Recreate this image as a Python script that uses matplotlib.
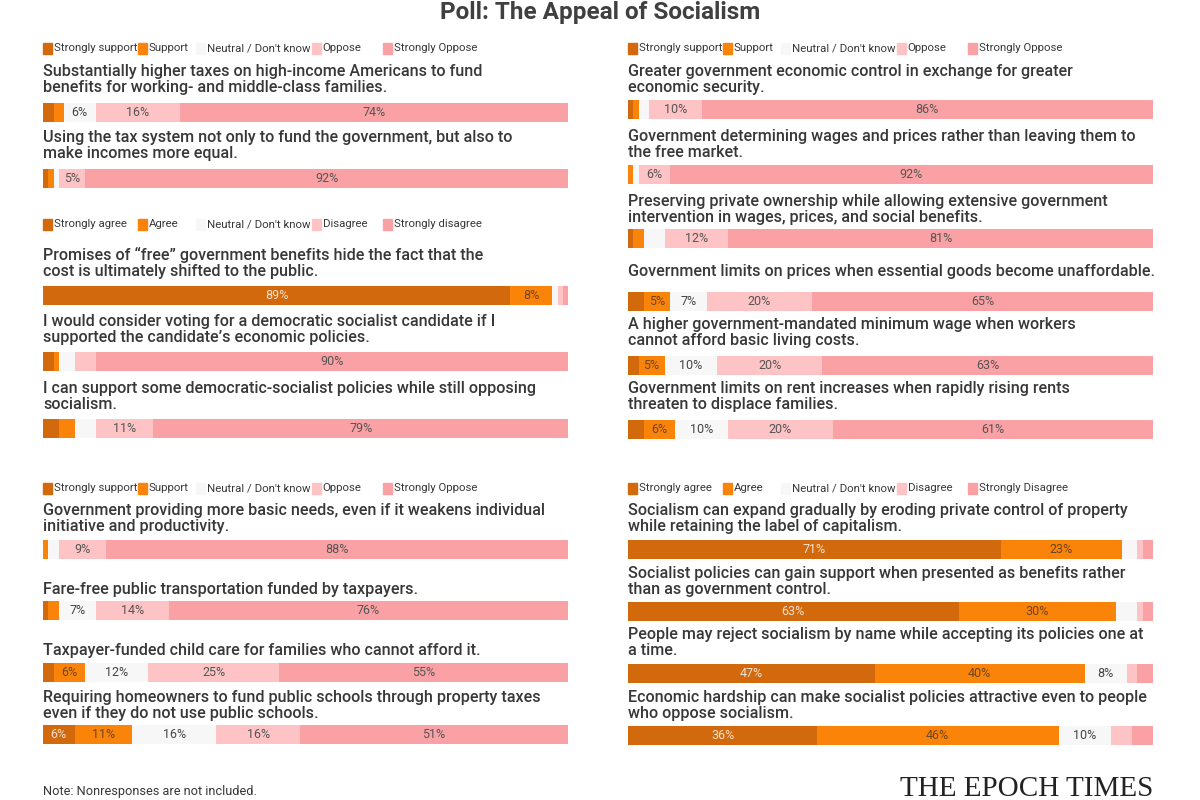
import matplotlib
matplotlib.use("Agg")
import matplotlib.pyplot as plt
from matplotlib.patches import Rectangle

plt.rcParams["font.family"] = ["Roboto", "DejaVu Sans"]

# segment colours: strongly +, +, neutral, -, strongly -
COLORS = ["#d2690c", "#fa8309", "#f7f7f7", "#fdc3c5", "#f9a1a4"]
LABEL_COLORS = ["#f6e3d2", "#6e4520", "#444444", "#555555", "#555555"]
TEXT = "#383838"

support_legend = ["Strongly support", "Support", "Neutral / Don't know", "Oppose", "Strongly Oppose"]
agree_legend = ["Strongly agree", "Agree", "Neutral / Don't know", "Disagree", "Strongly disagree"]
agree_legend_b = ["Strongly agree", "Agree", "Neutral / Don't know", "Disagree", "Strongly Disagree"]

p1_questions = [
    "Substantially higher taxes on high-income Americans to fund\nbenefits for working- and middle-class families.",
    "Using the tax system not only to fund the government, but also to\nmake incomes more equal.",
]
p1_values = [[2, 2, 6, 16, 74], [1, 1, 1, 5, 92]]

p2_questions = [
    "Promises of \u201cfree\u201d government benefits hide the fact that the\ncost is ultimately shifted to the public.",
    "I would consider voting for a democratic socialist candidate if I\nsupported the candidate\u2019s economic policies.",
    "I can support some democratic-socialist policies while still opposing\nsocialism.",
]
p2_values = [[89, 8, 1, 1, 1], [2, 1, 3, 4, 90], [3, 3, 4, 11, 79]]

p3_questions = [
    "Government providing more basic needs, even if it weakens individual\ninitiative and productivity.",
    "Fare-free public transportation funded by taxpayers.",
    "Taxpayer-funded child care for families who cannot afford it.",
    "Requiring homeowners to fund public schools through property taxes\neven if they do not use public schools.",
]
p3_values = [[0, 1, 2, 9, 88], [1, 2, 7, 14, 76], [2, 6, 12, 25, 55], [6, 11, 16, 16, 51]]

p4_questions = [
    "Greater government economic control in exchange for greater\neconomic security.",
    "Government determining wages and prices rather than leaving them to\nthe free market.",
    "Preserving private ownership while allowing extensive government\nintervention in wages, prices, and social benefits.",
]
p4_values = [[1, 1, 2, 10, 86], [0, 1, 1, 6, 92], [1, 2, 4, 12, 81]]

p5_questions = [
    "Government limits on prices when essential goods become unaffordable.",
    "A higher government-mandated minimum wage when workers\ncannot afford basic living costs.",
    "Government limits on rent increases when rapidly rising rents\nthreaten to displace families.",
]
p5_values = [[3, 5, 7, 20, 65], [2, 5, 10, 20, 63], [3, 6, 10, 20, 61]]

p6_questions = [
    "Socialism can expand gradually by eroding private control of property\nwhile retaining the label of capitalism.",
    "Socialist policies can gain support when presented as benefits rather\nthan as government control.",
    "People may reject socialism by name while accepting its policies one at\na time.",
    "Economic hardship can make socialist policies attractive even to people\nwho oppose socialism.",
]
p6_values = [[71, 23, 3, 1, 2], [63, 30, 4, 1, 2], [47, 40, 8, 2, 3], [36, 46, 10, 4, 4]]

# layout (pixels from top; legend x in percent of bar width)
LEGEND_X = [0, 18.0, 29.2, 51.2, 64.8]
BAR_H = 19


def draw_panel(ax, legend, questions, values, legend_y, bar_y, gaps):
    if legend is not None:
        for lab, col, lx in zip(legend, COLORS, LEGEND_X):
            ax.add_patch(Rectangle((lx, legend_y - 5.5), 1.75, 11, color=col, clip_on=False))
            ax.text(lx + 2.1, legend_y, lab, fontsize=8.2, va="center", color=TEXT)
    for q, vals, y, g in zip(questions, values, bar_y, gaps):
        left = 0
        for v, col, tc in zip(vals, COLORS, LABEL_COLORS):
            ax.barh(y, v, left=left, height=BAR_H, color=col, linewidth=0)
            if v >= 5:
                ax.text(left + v / 2, y + 0.5, f"{v}%", ha="center", va="center",
                        fontsize=9, color=tc)
            left += v
        ax.text(0, y - g, q, va="bottom", ha="left", fontsize=11.6, color=TEXT,
                linespacing=1.05, fontweight="medium")


fig = plt.figure(figsize=(12, 8), dpi=100)
ax_l = fig.add_axes([43 / 1200, 0, 525 / 1200, 1])
ax_r = fig.add_axes([628 / 1200, 0, 525 / 1200, 1])
for ax in (ax_l, ax_r):
    ax.set_xlim(0, 100)
    ax.set_ylim(800, 0)
    ax.axis("off")

draw_panel(ax_l, support_legend, p1_questions, p1_values, 48, [112, 178], [17, 17])
draw_panel(ax_l, agree_legend, p2_questions, p2_values, 224, [295, 361, 428], [16, 16, 16])
draw_panel(ax_l, support_legend, p3_questions, p3_values, 488, [549, 610, 672, 734], [15, 13, 14, 13])
draw_panel(ax_r, support_legend, p4_questions, p4_values, 48, [109, 174, 238], [14, 14, 13])
draw_panel(ax_r, None, p5_questions, p5_values, 0, [301, 365, 429], [22, 17, 17])
draw_panel(ax_r, agree_legend_b, p6_questions, p6_values, 488, [549, 611, 673, 735], [15, 14, 15, 14])

fig.text(0.5, 1 - 12 / 800, "Poll: The Appeal of Socialism", ha="center", va="center",
         fontsize=17.5, fontweight="bold", color="#404040")
fig.text(43 / 1200, 1 - 792 / 800, "Note: Nonresponses are not included.", ha="left",
         va="center", fontsize=9.2, color=TEXT)
fig.text(1153 / 1200, 1 - 789 / 800, "THE EPOCH TIMES", ha="right", va="center",
         fontsize=21, color="#222222", family=["Liberation Serif", "DejaVu Serif"])

fig.savefig("out.png", dpi=100, facecolor="white")
